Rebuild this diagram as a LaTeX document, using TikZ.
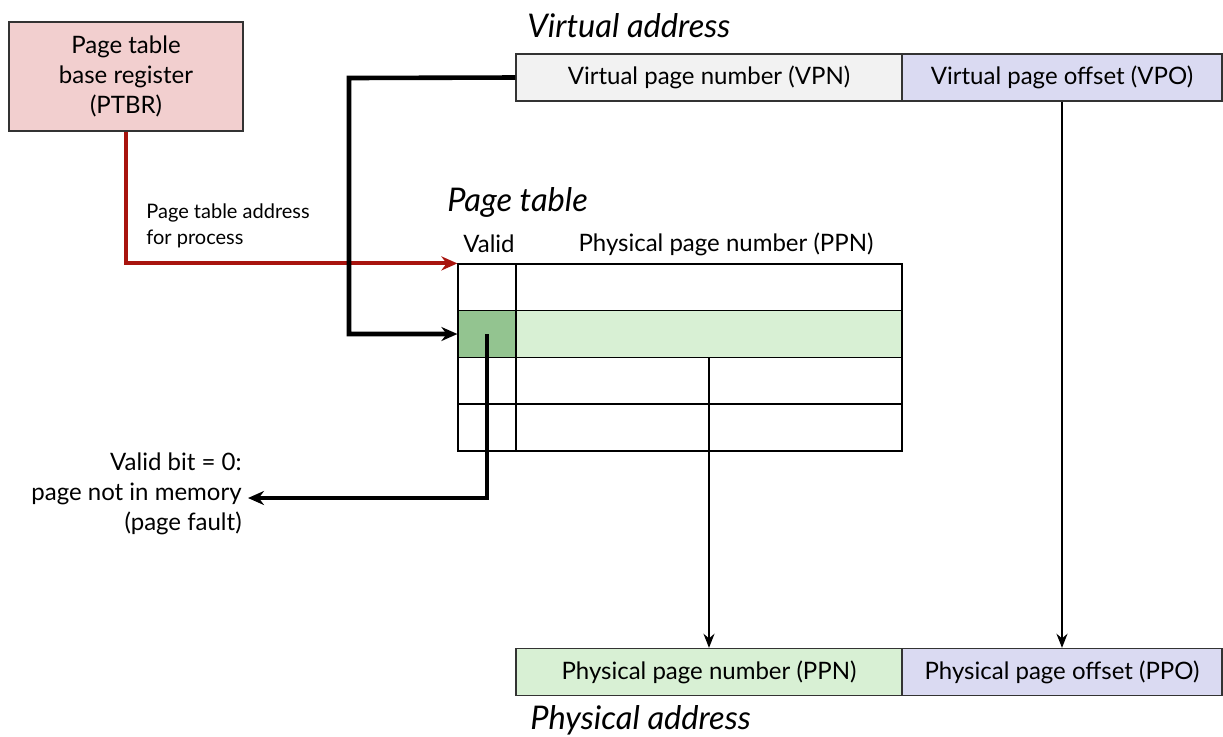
\documentclass[tikz,border=0pt]{standalone}
\usepackage{fontspec}
\setmainfont{Lato}
\usetikzlibrary{arrows.meta}

\definecolor{regpink}{HTML}{F2CFCF}
\definecolor{vpngray}{HTML}{F2F2F2}
\definecolor{offlav}{HTML}{DADAF2}
\definecolor{ppnlight}{HTML}{D8F0D4}
\definecolor{validdark}{HTML}{93C490}
\definecolor{ptbrred}{HTML}{A8140E}

\begin{document}
\begin{tikzpicture}[x=0.5pt,y=-0.5pt,
    field/.style={draw=black!80, line width=0.7pt, inner sep=0pt,
        minimum height=23.5pt, font=\fontsize{12}{15}\selectfont},
    cell/.style={draw=black, line width=0.6pt, inner sep=0pt, minimum height=23.5pt},
    title/.style={anchor=west, inner sep=0pt, font=\fontsize{16.3}{19}\selectfont\itshape},
    label/.style={inner sep=0pt, font=\fontsize{12}{15}\selectfont},
    fat/.style={line width=2.3pt, -{Stealth[length=8pt,width=7pt]}},
    slim/.style={line width=1.1pt, -{Stealth[length=7pt,width=5.5pt]}}]

    \useasboundingbox (0,0) rectangle (1223,736);

    % register
    \node[field, fill=regpink, minimum width=117pt, minimum height=54.5pt,
        align=center] (ptbr) at (126,76.5) {Page table\\base register\\(PTBR)};

    % virtual address
    \node[title] (vatitle) at (527,26) {Virtual address};
    \node[field, fill=vpngray, minimum width=193pt] (vpn) at (709,77.5)
        {Virtual page number (VPN)};
    \node[field, fill=offlav, minimum width=160pt] (vpo) at (1062,77.5)
        {Virtual page offset (VPO)};

    % page table
    \node[title] (pttitle) at (447,202) {Page table};
    \node[label] (validhd) at (489,244) {Valid};
    \node[label] (ppnhd) at (726,244) {Physical page number (PPN)};
    \foreach \r/\y in {1/287.5,2/334,3/380.5,4/427.5}{
        \node[cell, minimum width=29pt] (pt\r v) at (487,\y) {};
        \node[cell, minimum width=193pt] (pt\r p) at (709,\y) {};
    }
    \node[cell, fill=validdark, minimum width=29pt] (pt2v) at (487,334) {};
    \node[cell, fill=ppnlight, minimum width=193pt] (pt2p) at (709,334) {};

    % physical address
    \node[field, fill=ppnlight, minimum width=193pt] (ppn) at (709,672)
        {Physical page number (PPN)};
    \node[field, fill=offlav, minimum width=160pt] (ppo) at (1062,672)
        {Physical page offset (PPO)};
    \node[title] (patitle) at (530,720) {Physical address};

    % labels
    \node[anchor=west, align=left, inner sep=0pt, font=\fontsize{10}{13}\selectfont]
        (ptaddr) at (146,226) {Page table address\\for process};
    \node[label, anchor=east, align=right] (fault) at (242,494)
        {Valid bit = 0:\\page not in memory\\(page fault)};

    % connectors
    \coordinate (vpnbend) at (349,78);
    \draw[line width=2pt, ptbrred, -{Stealth[length=8pt,width=7pt]}]
        (ptbr.south) |- (pt1v.north west);
    \draw[fat] (vpn.west) -- (vpnbend) |- (pt2v.west);
    \draw[fat] (pt2v.center) |- ([xshift=3pt,yshift=-2pt]fault.east);
    \draw[slim] (pt2p.south) -- (ppn.north);
    \draw[slim] (vpo.south) -- (ppo.north);
\end{tikzpicture}
\end{document}
